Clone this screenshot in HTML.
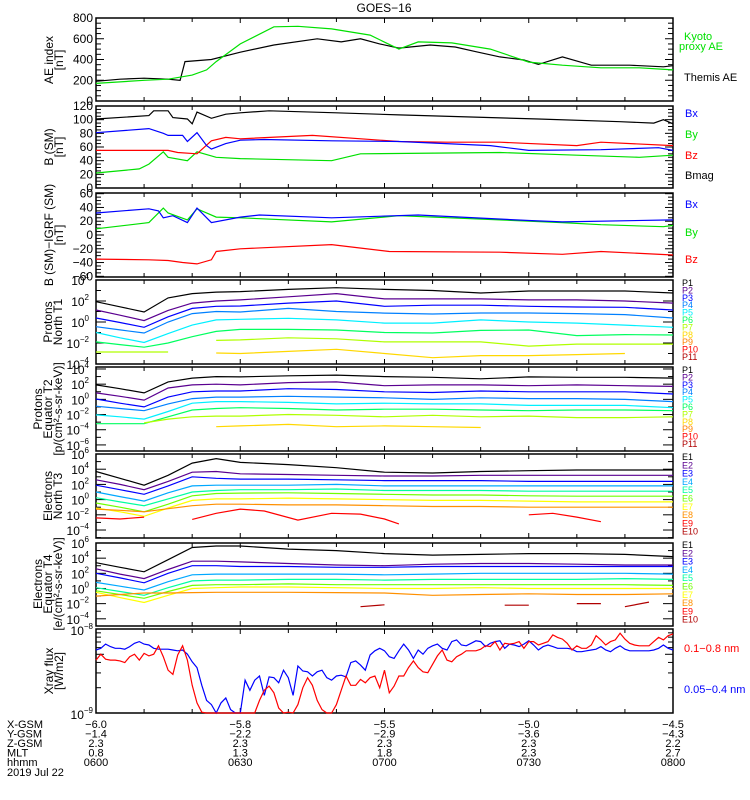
<!DOCTYPE html>
<html><head><meta charset="utf-8">
<style>
html,body{margin:0;padding:0;background:#fff;}
svg{display:block;font-family:"Liberation Sans",sans-serif;}
text{font-family:"Liberation Sans",sans-serif;}
</style></head>
<body>
<svg id="chart" width="750" height="800" viewBox="0 0 750 800" xmlns="http://www.w3.org/2000/svg">
<rect x="0" y="0" width="750" height="800" fill="#fff"/>
<text x="384" y="12" font-size="12" text-anchor="middle">GOES−16</text>
<g id="panels"></g>
<g font-size="11">
<text x="684" y="40" fill="#00e000">Kyoto</text>
<text x="679" y="50" fill="#00e000">proxy AE</text>
<text x="684" y="81" fill="#000">Themis AE</text>
<text x="685" y="117" fill="#0000ff">Bx</text>
<text x="685" y="138" fill="#00e000">By</text>
<text x="685" y="159" fill="#ff0000">Bz</text>
<text x="685" y="179" fill="#000">Bmag</text>
<text x="685" y="208" fill="#0000ff">Bx</text>
<text x="685" y="236" fill="#00e000">By</text>
<text x="685" y="263" fill="#ff0000">Bz</text>
<text x="684" y="652" fill="#ff0000">0.1−0.8 nm</text>
<text x="684" y="693" fill="#0000ff">0.05−0.4 nm</text>
</g>
<g font-size="12">
<text transform="translate(53,60) rotate(-90)" text-anchor="middle">AE index</text>
<text transform="translate(63,60) rotate(-90)" text-anchor="middle">[nT]</text>
<text transform="translate(53,147) rotate(-90)" text-anchor="middle">B (SM)</text>
<text transform="translate(63,147) rotate(-90)" text-anchor="middle">[nT]</text>
<text transform="translate(53,235) rotate(-90)" text-anchor="middle">B (SM)−IGRF (SM)</text>
<text transform="translate(63,235) rotate(-90)" text-anchor="middle">[nT]</text>
<text transform="translate(52,322) rotate(-90)" text-anchor="middle">Protons</text>
<text transform="translate(62,322) rotate(-90)" text-anchor="middle">North T1</text>
<text transform="translate(42,409) rotate(-90)" text-anchor="middle">Protons</text>
<text transform="translate(52,409) rotate(-90)" text-anchor="middle">Equator T2</text>
<text transform="translate(62,409) rotate(-90)" text-anchor="middle">[p/(cm²-s-sr-keV)]</text>
<text transform="translate(52,496) rotate(-90)" text-anchor="middle">Electrons</text>
<text transform="translate(62,496) rotate(-90)" text-anchor="middle">North T3</text>
<text transform="translate(42,584) rotate(-90)" text-anchor="middle">Electrons</text>
<text transform="translate(52,584) rotate(-90)" text-anchor="middle">Equator T4</text>
<text transform="translate(62,584) rotate(-90)" text-anchor="middle">[e/(cm²-s-sr-keV)]</text>
<text transform="translate(53,671) rotate(-90)" text-anchor="middle">Xray flux</text>
<text transform="translate(63,671) rotate(-90)" text-anchor="middle">[W/m2]</text>
</g>
<g id="bottom" font-size="11"></g>
</svg>
<script>
// ---------- data ----------
const aeThemisT = [0,5,10,15,17.5,18.5,24,30,37,46,51,55,59,63,69.5,74.7,79,84,89,92,97,103,111,118,120];
const aeThemisV = [190,210,220,210,200,380,400,470,540,600,570,600,550,510,540,520,475,425,395,353,425,345,345,330,340];
const aeKyotoT = [0,10,15,20,23,25,30,37,42,49,57,63,67,74,82,90,97,105,113,120];
const aeKyotoV = [170,200,210,250,300,380,550,715,720,695,635,500,570,560,500,375,345,320,320,300];

const bmagT = [0,11,12,15,16,19,20,21,24,27,30,36,50,63,92,109,116,118,120];
const bmagV = [101,106,113,113,103,101,94,111,102,108,110,113,110,107,101,97,95,100,94];
const bxT = [0,11,14,15,18,19,21,23,24,27,30,35,49,63,82,90,105,117,120];
const bxV = [81,87,80,77,77,68,81,62,57,65,70,71,69,68,62,55,56,59,55];
const bzT = [0,15,17,21,24,27,30,45,63,73,84,100,105,120];
const bzV = [55,55,52,50,69,74,72,77,68,67,67,62,67,62];
const byT = [0,9,11,14,15,19,21,25,30,49,55,84,100,113,120];
const byV = [22,28,35,53,45,40,53,45,43,40,50,52,48,45,48];

const dbxT = [0,11,13,14,16,19,21,24,30,34,49,67,90,97,120];
const dbxV = [32,38,35,25,28,18,39,18,26,29,25,29,21,19,22];
const dbyT = [0,11,14,15,19,21,25,30,49,63,84,97,105,118,120];
const dbyV = [9,18,39,32,22,38,26,25,19,28,22,18,15,12,14];
const dbzT = [0,11,15,18,21,24,25,30,49,61,84,97,105,120];
const dbzV = [-35,-36,-37,-40,-42,-36,-24,-20,-14,-24,-25,-28,-24,-29];

const gridT = [0,5,10,15,20,25,30,40,50,60,70,80,90,100,110,120];
// Protons North T1 (log10 flux)
const t1P1 = [1.93,1.45,0.95,2.3,2.7,2.85,2.9,3.1,3.27,3.1,3.0,2.76,2.95,2.95,2.95,2.76];
const t1P2 = [1.14,0.65,0.13,1.1,1.8,2.0,2.1,2.4,2.7,2.2,2.2,2.2,2.1,2.1,2.0,1.8];
const t1P3 = [0.38,-0.05,-0.5,0.5,1.3,1.5,1.52,1.8,2.0,1.5,1.6,1.6,1.5,1.43,1.4,1.14];
const t1P4 = [-0.45,-0.75,-1.05,0,0.8,1.0,0.95,1.3,1.0,0.85,0.76,0.86,0.86,0.8,0.7,0.38];
const t1P5 = [-1.0,-1.5,-1.95,-1.1,-0.3,0.2,0.26,0.35,0.2,-0.1,-0.1,0.2,0.0,-0.1,-0.3,-0.5];
const t1P6 = [-1.9,-2.15,-2.4,-2.0,-1.4,-0.9,-0.7,-0.7,-0.76,-1.0,-1.05,-0.8,-0.76,-1.3,-1.2,-1.24];
const t1P7 = [-2.86,-2.86,-2.86,-2.86,null,-1.75,-1.7,-1.5,-1.6,-1.9,-1.9,-1.9,-2.3,-2.1,-2.1,-2.1];
const t1P8 = [null,null,null,null,null,-2.95,-3.0,-2.8,-2.6,-3.0,-3.4,-3.2,-3.2,-3.1,-3.0,null];
// Protons Equator T2
const t2P1 = [1.9,1.4,0.85,2.3,2.8,3.0,2.95,3.1,3.2,3.0,2.9,2.7,2.95,2.9,2.9,2.8];
const t2P2 = [0.85,0.4,-0.1,1.5,1.9,2.0,1.9,2.2,2.3,1.8,1.9,1.9,1.8,1.9,1.8,1.7];
const t2P3 = [0.05,-0.5,-1.0,0.3,1.0,1.1,1.1,1.4,1.3,1.0,0.9,1.1,1.0,1.0,1.0,0.7];
const t2P4 = [-0.9,-1.2,-1.5,-0.6,0.1,0.3,0.3,0.4,0.3,0.2,0.0,0.2,0.1,0.1,0.0,-0.3];
const t2P5 = [-2.05,-2.3,-2.6,-1.6,-0.5,-0.3,-0.3,-0.4,-0.6,-0.5,-0.6,-0.6,-0.8,-0.8,-0.8,-1.1];
const t2P6 = [-3.2,-3.2,-3.2,-2.3,-1.4,-1.2,-1.1,-1.2,-1.4,-1.3,-1.3,-1.4,-1.5,-1.4,-1.4,-1.5];
const t2P7 = [null,null,-3.1,-2.6,-2.3,-2.2,-2.2,-2.0,-2.1,-2.3,-2.1,-2.3,-2.2,-2.4,-2.4,-2.3];
const t2P8 = [null,null,null,null,null,-3.6,-3.5,-3.3,-3.6,-3.5,-3.6,-3.7,null,null,-3.6,null];
// Electrons North T3
const t3E1 = [3.7,2.8,1.9,3.2,4.8,5.4,4.9,4.6,4.2,3.6,3.5,3.7,3.8,3.9,3.9,3.9];
const t3E2 = [2.6,2.0,1.3,2.4,3.6,3.7,3.4,3.3,3.2,3.1,3.1,3.2,3.2,3.2,3.2,3.2];
const t3E3 = [1.9,1.3,0.7,1.8,3.0,2.8,2.7,2.7,2.6,2.5,2.5,2.5,2.4,2.4,2.4,2.4];
const t3E4 = [1.0,0.4,-0.2,0.9,1.8,1.9,1.9,1.9,2.0,1.8,1.8,1.8,1.8,1.8,1.8,1.8];
const t3E5 = [0.25,-0.3,-0.8,0.1,1.0,1.2,1.3,1.3,1.4,1.2,1.2,1.2,1.1,1.1,1.1,1.1];
const t3E6 = [-0.45,-1.0,-1.6,-0.6,0.5,0.8,0.85,0.9,0.8,0.7,0.6,0.6,0.5,0.45,0.45,0.45];
const t3E7 = [-1.1,-1.6,-2.2,-1.1,-0.1,0.1,0.1,0.2,0.1,0.0,-0.1,-0.1,-0.2,-0.3,-0.3,-0.3];
const t3E8 = [-1.25,-1.4,-1.6,-1.2,-0.8,-0.6,-0.6,-0.7,-0.7,-0.8,-0.9,-0.9,-1.0,-1.0,-1.0,-1.0];
const t3E9T = [0,5,10,null,20,25,30,35,42,49,55,60,63,null,90,95,100,105];
const t3E9V = [-2.4,-2.55,-2.3,null,-2.6,-1.8,-1.25,-1.5,-2.7,-1.8,-1.9,-2.55,-3.2,null,-2.0,-1.8,-2.3,-2.9];
// Electrons Equator T4
const t4E1 = [3.4,2.8,2.2,3.8,5.4,5.6,5.6,5.2,5.0,4.6,4.4,4.5,4.6,4.6,4.5,4.2];
const t4E2 = [2.6,1.9,1.3,2.5,3.6,3.6,3.5,3.3,3.1,3.0,3.2,3.3,3.3,3.2,3.1,3.1];
const t4E3 = [2.0,1.4,0.75,2.0,3.0,3.0,2.9,2.9,2.8,2.8,2.9,2.9,2.9,2.9,2.9,2.9];
const t4E4 = [0.8,0.3,-0.2,0.9,1.8,1.9,1.9,1.9,1.9,1.8,1.9,2.0,2.0,2.0,2.0,1.9];
const t4E5 = [0.1,-0.4,-0.9,0.1,1.0,1.1,1.1,1.2,1.2,1.1,1.2,1.2,1.2,1.2,1.3,1.2];
const t4E6 = [-0.3,-0.8,-1.3,-0.4,0.4,0.5,0.5,0.6,0.5,0.5,0.5,0.5,0.5,0.5,0.5,0.4];
const t4E7 = [-0.5,-1.2,-1.85,-0.9,0.0,0.1,0.2,0.2,0.1,0.0,0.0,0.1,0.0,0.0,0.0,0.0];
const t4E8 = [-1.0,-0.8,-0.6,-0.6,-0.55,-0.5,-0.5,-0.5,-0.55,-0.6,-0.9,-0.8,-0.7,-0.8,-0.8,-0.7];
const t4E10T = [55,60,null,85,90,null,100,105,null,110,115];
const t4E10V = [-2.4,-2.15,null,-2.2,-2.2,null,-2.0,-2.0,null,-2.4,-1.8];
// X-ray (log10 W/m2), one value per minute 0..120
const xrayShort = [-8.25,-8.23,-8.18,-8.21,-8.23,-8.23,-8.24,-8.21,-8.17,-8.15,-8.18,-8.19,-8.23,-8.24,-8.24,-8.24,-8.25,-8.26,-8.25,-8.30,-8.39,-8.46,-8.67,-8.85,-8.90,-9.0,-8.88,-8.82,-8.96,-9,-9,-8.61,-8.73,-8.61,-8.56,-8.79,-8.57,-8.58,-8.64,-8.49,-8.58,-8.79,-8.44,-8.50,-8.51,-8.56,-8.51,-8.49,-8.58,-8.61,-8.56,-8.55,-8.57,-8.40,-8.38,-8.43,-8.49,-8.31,-8.26,-8.23,-8.26,-8.33,-8.35,-8.26,-8.18,-8.25,-8.35,-8.25,-8.30,-8.23,-8.20,-8.18,-8.23,-8.25,-8.15,-8.13,-8.19,-8.20,-8.17,-8.14,-8.15,-8.21,-8.17,-8.15,-8.14,-8.23,-8.18,-8.19,-8.21,-8.18,-8.14,-8.19,-8.25,-8.21,-8.19,-8.21,-8.23,-8.23,-8.23,-8.24,-8.27,-8.27,-8.26,-8.25,-8.24,-8.21,-8.25,-8.27,-8.23,-8.20,-8.24,-8.26,-8.26,-8.26,-8.26,-8.26,-8.25,-8.23,-8.19,-8.23,-8.25];
const xrayLong = [-8.37,-8.30,-8.36,-8.37,-8.37,-8.38,-8.40,-8.33,-8.30,-8.37,-8.29,-8.32,-8.30,-8.20,-8.33,-8.49,-8.54,-8.31,-8.20,-8.37,-8.67,-8.88,-8.99,-9,-9,-9,-9,-9,-9,-9,-9,-9,-9,-9,-8.85,-8.73,-8.68,-8.76,-8.94,-9,-8.99,-9,-8.90,-8.70,-8.58,-8.67,-8.85,-8.96,-9,-9,-8.90,-8.73,-8.56,-8.67,-8.67,-8.60,-8.64,-8.58,-8.56,-8.70,-8.49,-8.76,-8.68,-8.56,-8.56,-8.46,-8.38,-8.46,-8.51,-8.52,-8.42,-8.32,-8.25,-8.37,-8.39,-8.33,-8.30,-8.26,-8.26,-8.26,-8.24,-8.20,-8.21,-8.15,-8.25,-8.17,-8.18,-8.17,-8.15,-8.23,-8.15,-8.15,-8.19,-8.17,-8.15,-8.07,-8.10,-8.12,-8.17,-8.25,-8.20,-8.23,-8.23,-8.19,-8.08,-8.13,-8.19,-8.15,-8.13,-8.05,-8.12,-8.17,-8.19,-8.20,-8.20,-8.20,-8.15,-8.10,-8.13,-8.08,-8.06];

const xTickLabelsX = ["-6.0","-5.8","-5.5","-5.0","-4.5"];
const xTickLabelsY = ["-1.4","-2.2","-2.9","-3.6","-4.3"];
const xTickLabelsZ = ["2.3","2.3","2.3","2.3","2.2"];
const xTickLabelsMLT = ["0.8","1.3","1.8","2.3","2.7"];
const xTickLabelsTime = ["0600","0630","0700","0730","0800"];
const xTickMinutes = [0,30,60,90,120];

const protonNames = ["P1","P2","P3","P4","P5","P6","P7","P8","P9","P10","P11"];
const electronNames = ["E1","E2","E3","E4","E5","E6","E7","E8","E9","E10"];
const pColors = ["#000000","#5a0090","#0000ff","#0080ff","#00f0ff","#00ff60","#b0ff00","#ffd800","#ff8000","#ff0000","#b00000"];
const eColors = ["#000000","#5a0090","#0000ff","#00a8ff","#00ffa0","#70ff00","#ffff00","#ff9000","#ff0000","#b00000"];

// ---------- drawing ----------
const NS = "http://www.w3.org/2000/svg";
const X0 = 96, X1 = 673, TMAX = 120;
function xs(t){ return X0 + t/TMAX*(X1-X0); }
function mk(tag, attrs, parent){ const e = document.createElementNS(NS, tag); for (const k in attrs) e.setAttribute(k, attrs[k]); parent.appendChild(e); return e; }
const panelsG = document.getElementById("panels");

const panels = [
 {name:"ae", top:18, bot:101, min:0, max:800, log:false, major:200, minor:50},
 {name:"b", top:106, bot:188, min:0, max:120, log:false, major:20, minor:5},
 {name:"b-igrf", top:193, bot:277, min:-61, max:61, log:false, major:20, minor:5},
 {name:"protons-t1", top:280, bot:364, min:-4, max:4, log:true, labels:[4,2,0,-2,-4]},
 {name:"protons-t2", top:367, bot:451, min:-6.8, max:4.26, log:true, labels:[4,2,0,-2,-4,-6]},
 {name:"electrons-t3", top:454, bot:538, min:-5.05, max:6, log:true, labels:[6,4,2,0,-2,-4]},
 {name:"electrons-t4", top:543, bot:626, min:-4.95, max:6, log:true, labels:[6,4,2,0,-2,-4]},
 {name:"xray", top:629, bot:713, min:-9, max:-8, log:true, labels:[-8,-9], xray:true}
];
function ys(p, v){ return p.bot - (v - p.min)/(p.max - p.min)*(p.bot - p.top); }

function drawLine(p, g, T, V, color, name){
  let d = "", pen = false;
  for (let i=0;i<T.length;i++){
    if (T[i]===null || V[i]===null || V[i]===undefined){ pen=false; continue; }
    let v = Math.max(p.min, Math.min(p.max, V[i]));
    const x = xs(T[i]).toFixed(1), y = ys(p, v).toFixed(1);
    d += (pen ? "L" : "M") + x + " " + y + " ";
    pen = true;
  }
  const el = mk("path", {d:d, fill:"none", stroke:color, "stroke-width":"1.2"}, g);
  
  
}

panels.forEach(p => {
  const g = mk("g", {}, panelsG);
  
  
  const frame = mk("rect", {x:X0, y:p.top, width:X1-X0, height:p.bot-p.top, fill:"none", stroke:"#000", "stroke-width":"1.5"}, g);
  
  
  // x ticks every 10 min
  for (let t=10;t<TMAX;t+=10){
    const x = xs(t), len = (t%30===0)?5:4;
    mk("line", {x1:x, x2:x, y1:p.bot, y2:p.bot-len, stroke:"#000"}, g);
    mk("line", {x1:x, x2:x, y1:p.top, y2:p.top+len, stroke:"#000"}, g);
  }
  function ytick(v, len){
    const y = ys(p, v);
    mk("line", {x1:X0, x2:X0+len, y1:y, y2:y, stroke:"#000"}, g);
    mk("line", {x1:X1, x2:X1-len, y1:y, y2:y, stroke:"#000"}, g);
  }
  const yl = mk("g", {"font-size":"12", "text-anchor":"end"}, g);
  
  
  if (!p.log){
    for (let v=Math.ceil(p.min/p.minor)*p.minor; v<=p.max; v+=p.minor){
      const isMaj = Math.abs(v % p.major) < 1e-9;
      ytick(v, isMaj ? 8 : 5);
      if (isMaj){ const t = mk("text", {x:X0-3, y:ys(p,v)+4}, yl); t.textContent = (v<0?"−"+(-v):String(v)); }
    }
  } else if (p.xray){
    for (let k=2;k<=9;k++){ ytick(-9+Math.log10(k), k===5?8:5); }
    p.labels.forEach(L => { const t = mk("text", {x:X0-3, y:ys(p,L)+6}, yl); t.textContent="10"; const s = mk("tspan", {"font-size":"8", dy:"-6"}, t); s.textContent = "−"+(-L); });
  } else {
    for (let L=Math.ceil(p.min); L<=Math.floor(p.max); L++){ ytick(L, (L%2===0)?10:5); }
    p.labels.forEach(L => { const t = mk("text", {x:X0-7, y:ys(p,L)+5}, yl); t.textContent="10"; const s = mk("tspan", {"font-size":"8", dy:"-6"}, t); s.textContent = (L<0?"−"+(-L):String(L)); });
  }
  p.g = g;
});

const P = panels;
drawLine(P[0], P[0].g, aeThemisT, aeThemisV, "#000", "line-themis-ae");
drawLine(P[0], P[0].g, aeKyotoT, aeKyotoV, "#00e000", "line-kyoto-ae");
drawLine(P[1], P[1].g, bmagT, bmagV, "#000", "line-bmag");
drawLine(P[1], P[1].g, byT, byV, "#00e000", "line-by");
drawLine(P[1], P[1].g, bzT, bzV, "#ff0000", "line-bz");
drawLine(P[1], P[1].g, bxT, bxV, "#0000ff", "line-bx");
drawLine(P[2], P[2].g, dbzT, dbzV, "#ff0000", "line-bz-igrf");
drawLine(P[2], P[2].g, dbyT, dbyV, "#00e000", "line-by-igrf");
drawLine(P[2], P[2].g, dbxT, dbxV, "#0000ff", "line-bx-igrf");

[t1P1,t1P2,t1P3,t1P4,t1P5,t1P6,t1P7,t1P8].forEach((s,i)=>drawLine(P[3], P[3].g, gridT, s, pColors[i], "line-t1-p"+(i+1)));
[t2P1,t2P2,t2P3,t2P4,t2P5,t2P6,t2P7,t2P8].forEach((s,i)=>drawLine(P[4], P[4].g, gridT, s, pColors[i], "line-t2-p"+(i+1)));
[t3E1,t3E2,t3E3,t3E4,t3E5,t3E6,t3E7,t3E8].forEach((s,i)=>drawLine(P[5], P[5].g, gridT, s, eColors[i], "line-t3-e"+(i+1)));
drawLine(P[5], P[5].g, t3E9T, t3E9V, eColors[8], "line-t3-e9");
[t4E1,t4E2,t4E3,t4E4,t4E5,t4E6,t4E7,t4E8].forEach((s,i)=>drawLine(P[6], P[6].g, gridT, s, eColors[i], "line-t4-e"+(i+1)));
drawLine(P[6], P[6].g, t4E10T, t4E10V, eColors[9], "line-t4-e10");
const minutes = xrayShort.map((_,i)=>i);
drawLine(P[7], P[7].g, minutes, xrayShort, "#0000ff", "line-xray-short");
drawLine(P[7], P[7].g, minutes, xrayLong, "#ff0000", "line-xray-long");

// channel legends
function chanLegend(p, names, colors, y0, step, tag){
  const g = mk("g", {"font-size":"9"}, panelsG);
  
  
  names.forEach((n,i)=>{
    const t = mk("text", {x:682, y:y0 + i*step, fill:colors[i]}, g);
    
    
    t.textContent = n;
  });
}
chanLegend(P[3], protonNames, pColors, 286, 7.4, "t1");
chanLegend(P[4], protonNames, pColors, 373, 7.4, "t2");
chanLegend(P[5], electronNames, eColors, 460, 8.3, "t3");
chanLegend(P[6], electronNames, eColors, 548, 8.3, "t4");

// bottom ephemeris
const bottom = document.getElementById("bottom");


const rowNames = ["X-GSM","Y-GSM","Z-GSM","MLT","hhmm"];
const rows = [xTickLabelsX, xTickLabelsY, xTickLabelsZ, xTickLabelsMLT, xTickLabelsTime];
rows.forEach((r,ri)=>{
  const y = 728 + ri*9.5;
  const h = mk("text", {x:7, y:y}, bottom);
  
  
  h.textContent = rowNames[ri];
  r.forEach((v,ci)=>{
    const t = mk("text", {x:xs(xTickMinutes[ci]), y:y, "text-anchor":"middle"}, bottom);
    
    
    t.textContent = v.replace("-", "−");
  });
});
const dt = mk("text", {x:7, y:776}, bottom);


dt.textContent = "2019 Jul 22";
</script>
</body></html>
